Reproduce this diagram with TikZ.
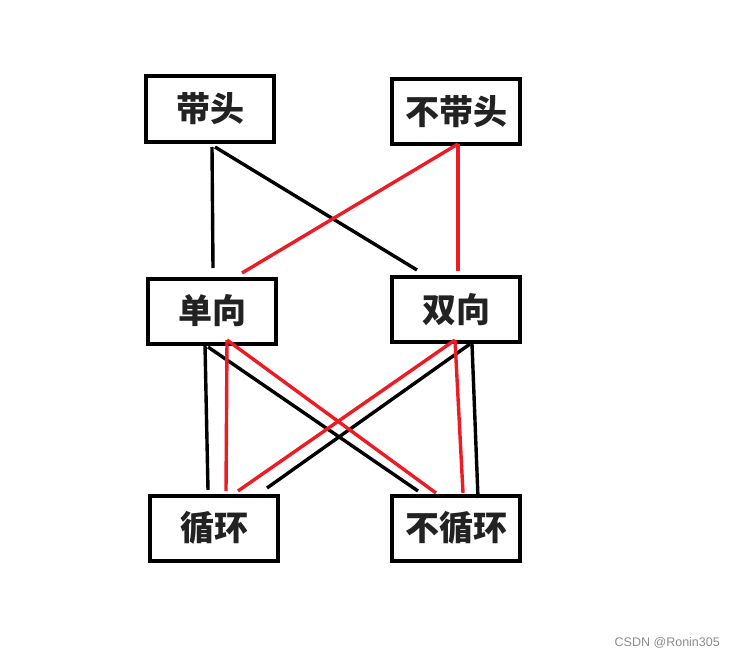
\documentclass[tikz,border=0pt]{standalone}
\usepackage{fontspec}
\newfontfamily\cjk{Noto Sans CJK SC}
\setsansfont{Liberation Sans}
\definecolor{pred}{HTML}{ED1C24}
\definecolor{txt}{HTML}{222222}
\tikzset{
  box/.style={draw=black, line width=4pt, minimum width=128pt, minimum height=65pt, inner sep=0pt,
    font=\cjk\bfseries\fontsize{34pt}{34pt}\selectfont, text=txt},
  blk/.style={draw=black, line width=3.4pt},
  rd/.style={draw=pred, line width=3.4pt},
}
\begin{document}
\begin{tikzpicture}[x=1pt,y=-1pt]
\useasboundingbox[fill=white] (0,0) rectangle (735,658);
\node[box] (dt) at (210,109) {带头};
\node[box] (bdt) at (456,111.5) {不带头};
\node[box] (dx) at (212,311) {单向};
\node[box] (sx) at (456,309.5) {双向};
\node[box] (xh) at (214,528) {循环};
\node[box] (bxh) at (456,528) {不循环};
% top level connections
\draw[blk] ([xshift=2pt,yshift=-3.5pt]dt.south) -- ([xshift=1pt,yshift=8.5pt]dx.north);
\draw[blk] ([xshift=5pt,yshift=-3.5pt]dt.south) -- ([xshift=-39pt,yshift=5pt]sx.north);
\draw[rd] ([xshift=2pt,yshift=2pt]bdt.south) -- ([xshift=30pt,yshift=3.5pt]dx.north);
\draw[rd] ([xshift=2pt,yshift=2pt]bdt.south) -- ([xshift=2pt,yshift=4pt]sx.north);
% bottom level connections
\draw[blk] ([xshift=-7pt,yshift=0.5pt]dx.south) -- ([xshift=-6pt,yshift=3.5pt]xh.north);
\draw[blk] ([xshift=-4pt,yshift=-1.5pt]dx.south) -- ([xshift=-38pt,yshift=2.5pt]bxh.north);
\draw[blk] ([xshift=14pt,yshift=0pt]sx.south) -- ([xshift=53pt,yshift=5.5pt]xh.north);
\draw[blk] ([xshift=16pt,yshift=0pt]sx.south) -- ([xshift=22pt,yshift=-4.5pt]bxh.north);
\draw[rd] ([xshift=15pt,yshift=5.5pt]dx.south) -- ([xshift=12pt,yshift=2.5pt]xh.north);
\draw[rd] ([xshift=15pt,yshift=5.5pt]dx.south) -- ([xshift=-20pt,yshift=0.5pt]bxh.north);
\draw[rd] ([xshift=-1pt,yshift=4pt]sx.south) -- ([xshift=24pt,yshift=2.5pt]xh.north);
\draw[rd] ([xshift=-1pt,yshift=4pt]sx.south) -- ([xshift=7pt,yshift=0.5pt]bxh.north);
\node[anchor=east, font=\sffamily\fontsize{12.5pt}{12.5pt}\selectfont, text=black!45, inner sep=0pt] (wm) at (720,643) {CSDN @Ronin305};
\end{tikzpicture}
\end{document}
